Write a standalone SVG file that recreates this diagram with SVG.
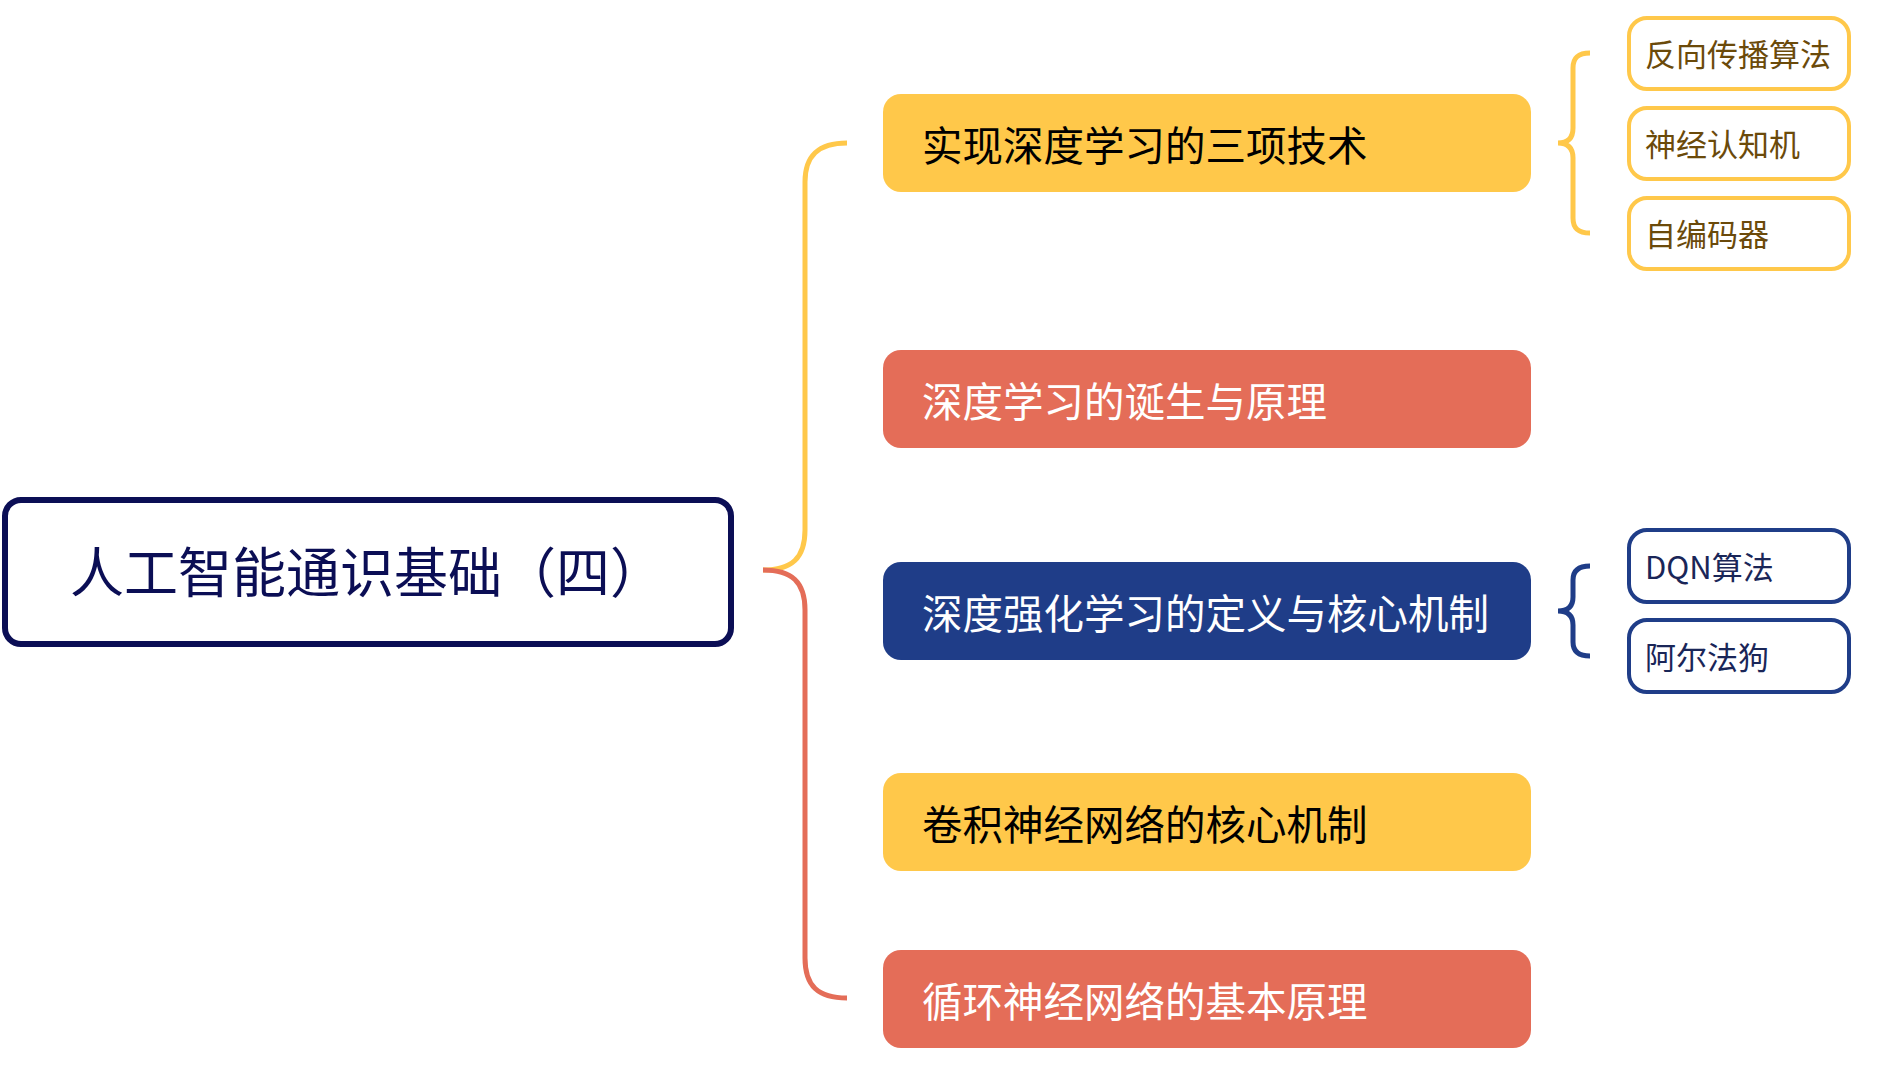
<svg xmlns="http://www.w3.org/2000/svg" width="1887" height="1069" viewBox="0 0 1887 1069">
<style>
  text { font-family: "Noto Sans CJK SC", "Noto Sans", sans-serif; }
  .main { font-size: 40.5px; }
  .sub { font-size: 31px; }
  .y { fill: #FFC84A; }
  .r { fill: #E46D58; }
  .b { fill: #1F3D88; }
  .ysub { fill: #FFFFFF; stroke: #FFC84A; stroke-width: 4; }
  .bsub { fill: #FFFFFF; stroke: #1F3D88; stroke-width: 4; }
  .conn { fill: none; stroke-width: 5; stroke-linecap: butt; }
</style>
<rect width="1887" height="1069" fill="#FFFFFF"/>
<g id="connectors">
  <path class="conn" stroke="#FFC84A" d="M763,570 C792,570 805,558 805,530 L805,182 C805,156 818,143 847,143"/>
  <path class="conn" stroke="#E46D58" d="M763,570 C792,570 805,582 805,610 L805,958 C805,986 818,998 847,998"/>
  <path class="conn" stroke="#FFC84A" d="M1590,53 C1578,53 1573,58 1573,68 L1573,128 C1573,138 1568,143 1558,143 C1568,143 1573,148 1573,158 L1573,218 C1573,228 1578,233 1590,233"/>
  <path class="conn" stroke="#1F3D88" d="M1590,566 C1578,566 1573,571 1573,580 L1573,597 C1573,606 1568,611 1558,611 C1568,611 1573,616 1573,625 L1573,642 C1573,651 1578,656 1590,656"/>
</g>
<g id="root">
  <rect x="5" y="500" width="726" height="144" rx="16" fill="#FFFFFF" stroke="#0B0E55" stroke-width="6"/>
  <text x="70" y="593" font-size="54" fill="#0B0E55">人工智能通识基础（四）</text>
</g>
<g id="n1">
  <rect class="y" x="883" y="94" width="648" height="98" rx="18"/>
  <text class="main" x="922" y="161" fill="#000000">实现深度学习的三项技术</text>
</g>
<g id="n2">
  <rect class="r" x="883" y="350" width="648" height="98" rx="18"/>
  <text class="main" x="922" y="417" fill="#FFFFFF">深度学习的诞生与原理</text>
</g>
<g id="n3">
  <rect class="b" x="883" y="562" width="648" height="98" rx="18"/>
  <text class="main" x="922" y="629" fill="#FFFFFF">深度强化学习的定义与核心机制</text>
</g>
<g id="n4">
  <rect class="y" x="883" y="773" width="648" height="98" rx="18"/>
  <text class="main" x="922" y="840" fill="#000000">卷积神经网络的核心机制</text>
</g>
<g id="n5">
  <rect class="r" x="883" y="950" width="648" height="98" rx="18"/>
  <text class="main" x="922" y="1017" fill="#FFFFFF">循环神经网络的基本原理</text>
</g>
<g id="s1">
  <rect class="ysub" x="1629" y="18" width="220" height="71" rx="18"/>
  <text class="sub" x="1645" y="66" fill="#6B4A0A">反向传播算法</text>
</g>
<g id="s2">
  <rect class="ysub" x="1629" y="108" width="220" height="71" rx="18"/>
  <text class="sub" x="1645" y="156" fill="#6B4A0A">神经认知机</text>
</g>
<g id="s3">
  <rect class="ysub" x="1629" y="198" width="220" height="71" rx="18"/>
  <text class="sub" x="1645" y="246" fill="#6B4A0A">自编码器</text>
</g>
<g id="s4">
  <rect class="bsub" x="1629" y="530" width="220" height="72" rx="18"/>
  <text class="sub" x="1645" y="579" fill="#1A2658">DQN算法</text>
</g>
<g id="s5">
  <rect class="bsub" x="1629" y="620" width="220" height="72" rx="18"/>
  <text class="sub" x="1645" y="669" fill="#1A2658">阿尔法狗</text>
</g>
</svg>
